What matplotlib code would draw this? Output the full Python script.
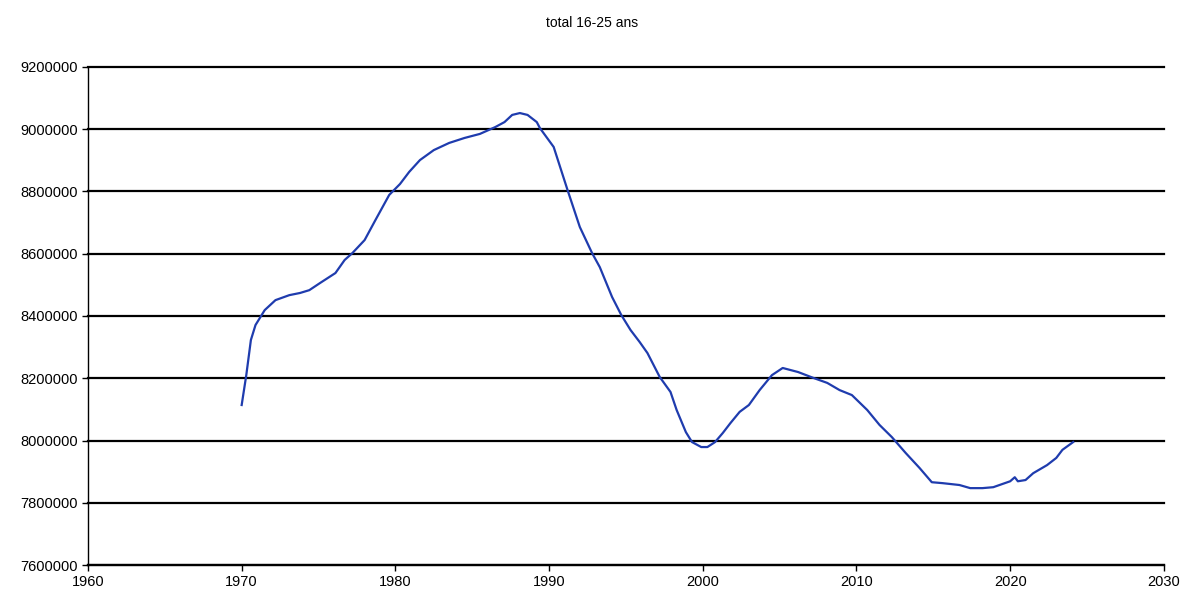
import matplotlib
matplotlib.use("Agg")
import matplotlib.pyplot as plt
from matplotlib import font_manager

# values (year, population aged 16-25)
years = [1970.0, 1970.3, 1970.6, 1970.9, 1971.5, 1972.2, 1973.1, 1973.8, 1974.4,
         1975.1, 1976.1, 1976.7, 1977.2, 1978.0, 1978.7, 1979.6, 1980.3, 1980.9,
         1981.6, 1982.5, 1983.5, 1984.5, 1985.5, 1986.5, 1987.1, 1987.6, 1988.1,
         1988.6, 1989.2, 1989.4, 1990.3, 1991.2, 1992.0, 1992.8, 1993.3, 1994.1,
         1994.7, 1995.3, 1995.9, 1996.4, 1997.2, 1997.9, 1998.3, 1998.9, 1999.3,
         1999.9, 2000.3, 2000.8, 2001.3, 2001.8, 2002.4, 2003.0, 2003.7, 2004.5,
         2005.2, 2006.2, 2007.2, 2008.1, 2008.9, 2009.7, 2010.7, 2011.5, 2012.3,
         2013.2, 2014.1, 2014.9, 2015.6, 2016.7, 2017.4, 2018.2, 2018.9, 2020.0,
         2020.3, 2020.5, 2021.0, 2021.5, 2022.4, 2023.0, 2023.4, 2024.1]
total_16_25 = [8114000, 8210000, 8323000, 8371000, 8419000, 8451000, 8467000, 8474000, 8483000,
               8506000, 8538000, 8580000, 8602000, 8644000, 8708000, 8789000, 8824000, 8863000,
               8901000, 8933000, 8956000, 8972000, 8985000, 9007000, 9023000, 9046000, 9052000,
               9046000, 9023000, 9004000, 8943000, 8805000, 8686000, 8602000, 8557000, 8461000,
               8403000, 8355000, 8316000, 8281000, 8204000, 8156000, 8098000, 8027000, 7995000,
               7979000, 7979000, 7995000, 8024000, 8056000, 8092000, 8114000, 8162000, 8210000,
               8233000, 8220000, 8201000, 8185000, 8162000, 8146000, 8098000, 8050000, 8011000,
               7960000, 7912000, 7866000, 7863000, 7857000, 7847000, 7847000, 7850000, 7869000,
               7882000, 7869000, 7873000, 7895000, 7921000, 7944000, 7970000, 7995000]

x_ticks = list(range(1960, 2031, 10))
y_ticks = list(range(7600000, 9200001, 200000))

# narrow font like the Excel export, if there is one
names = {f.name for f in font_manager.fontManager.ttflist}
family = "Liberation Sans Narrow" if "Liberation Sans Narrow" in names else "Liberation Sans"
plt.rcParams["font.family"] = [family, "DejaVu Sans"]

fig = plt.figure(figsize=(11.84, 5.96), dpi=100)
ax = fig.add_axes([0.0743, 0.052, 0.9087, 0.8356])

for v in y_ticks:
    ax.axhline(v, color="black", linewidth=1.6, zorder=1, clip_on=False)

ax.plot(years, total_16_25, color="#1f3cae", linewidth=1.6, zorder=3)

ax.set_xlim(1960, 2030)
ax.set_ylim(7600000, 9200000)
ax.set_xticks(x_ticks)
ax.set_yticks(y_ticks)
ax.set_xticklabels([str(t) for t in x_ticks], fontsize=10.5)
ax.set_yticklabels([str(t) for t in y_ticks], fontsize=10.5)
ax.tick_params(axis="both", length=4, width=1, color="black", pad=3)

for side in ["top", "right"]:
    ax.spines[side].set_visible(False)
ax.spines["left"].set_linewidth(1)
ax.spines["bottom"].set_linewidth(1.6)

fig.text(0.5, 0.962, "total 16-25 ans", ha="center", va="center", fontsize=10)

fig.savefig("out.png", dpi=100)
